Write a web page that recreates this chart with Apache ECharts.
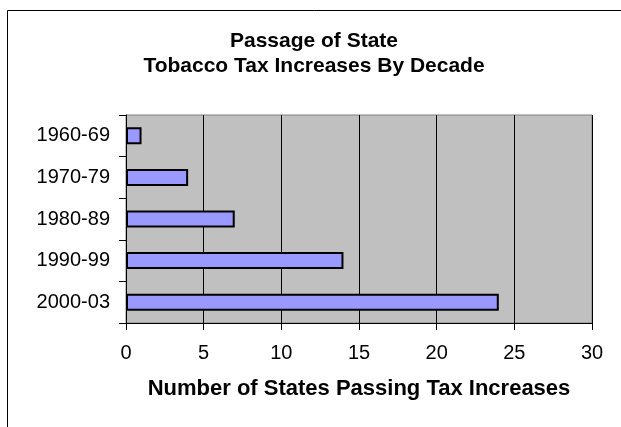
<!DOCTYPE html>
<html><head><meta charset="utf-8">
<script src="https://cdn.jsdelivr.net/npm/echarts@6/dist/echarts.min.js"></script>
<style>html,body{margin:0;padding:0;background:#fff}#c{width:621px;height:427px}</style>
</head><body><div id="c"></div>
<script>
const categories = ['1960-69','1970-79','1980-89','1990-99','2000-03'];
const values = [1, 4, 7, 14, 24];
const xTicks = [0, 5, 10, 15, 20, 25, 30];

const chart = echarts.init(document.getElementById('c'));
chart.setOption({
  animation: false,
  graphic: [{
    type: 'rect', shape: {x: 7.5, y: 10.5, width: 700, height: 500},
    style: {fill: 'none', stroke: '#000', lineWidth: 1}, z: -10
  }],
  title: {
    text: 'Passage of State\nTobacco Tax Increases By Decade',
    left: 314, top: 29, padding: 0, textAlign: 'center',
    textStyle: {fontFamily: 'Liberation Sans', fontSize: 21, fontWeight: 'bold', color: '#000', lineHeight: 25}
  },
  grid: {
    left: 126, top: 115, right: 29, bottom: 104, show: true,
    backgroundColor: '#C0C0C0', borderColor: '#808080', borderWidth: 1
  },
  xAxis: {
    type: 'value', min: xTicks[0], max: xTicks[xTicks.length-1], interval: 5,
    name: 'Number of States Passing Tax Increases', nameLocation: 'middle', nameGap: 55,
    nameTextStyle: {fontFamily: 'Liberation Sans', fontSize: 22, fontWeight: 'bold', color: '#000', verticalAlign: 'top'},
    axisLine: {show: true, lineStyle: {color: '#000', width: 1}},
    axisTick: {show: true, length: 7, inside: false, lineStyle: {color: '#000'}},
    axisLabel: {fontFamily: 'Liberation Sans', fontSize: 20, color: '#000', margin: 20},
    splitLine: {show: true, lineStyle: {color: '#000', width: 1}}
  },
  yAxis: {
    type: 'category', data: categories, inverse: true,
    axisLine: {show: true, lineStyle: {color: '#000', width: 1}},
    axisTick: {show: true, length: 7, alignWithLabel: false, lineStyle: {color: '#000'}},
    axisLabel: {fontFamily: 'Liberation Sans', fontSize: 20, color: '#000', margin: 16},
    splitLine: {show: false}
  },
  series: [{
    type: 'bar', data: values, barWidth: 17,
    itemStyle: {color: '#9999FF', borderColor: '#000', borderWidth: 2}
  }]
});
</script></body></html>
